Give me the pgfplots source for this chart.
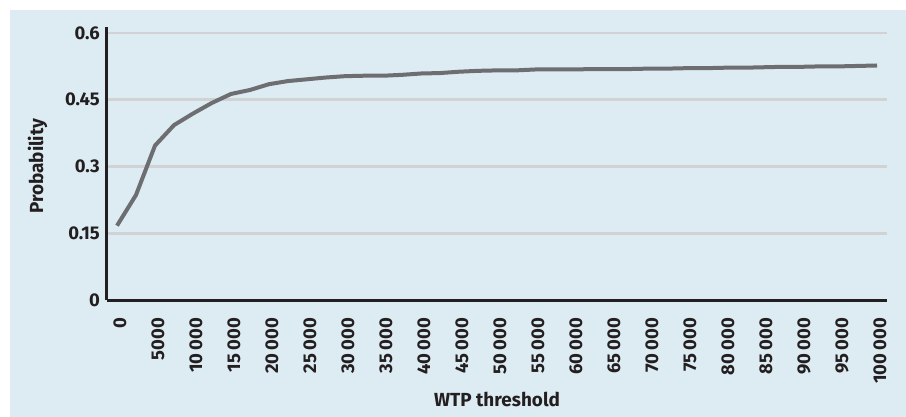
\documentclass[border=0pt]{standalone}
\usepackage{fontspec}
\setmainfont{Fira Sans}
\usepackage{pgfplots}
\pgfplotsset{compat=1.18}

\definecolor{panel}{RGB}{221,235,242}
\definecolor{gridgrey}{RGB}{208,210,211}
\definecolor{curve}{RGB}{109,110,113}
\definecolor{axisblack}{RGB}{35,31,32}

\begin{document}
\begin{tikzpicture}
\fill[white] (-107bp,-117bp) rectangle (799bp,300bp);
\fill[panel] (-97bp,-117bp) rectangle (799bp,290bp);
\begin{axis}[
    at={(0,0)}, anchor=south west,
    scale only axis,
    width=780bp, height=273bp,
    xmin=-1316, xmax=101316,
    ymin=0, ymax=0.6135,
    axis x line=bottom, axis y line=left,
    axis line style={-, line width=3bp, color=axisblack},
    major tick length=0pt,
    tick style={draw=none},
    scaled x ticks=false,
    ytick={0,0.15,0.3,0.45,0.6},
    yticklabels={0,0.15,0.3,0.45,0.6},
    xtick={0,5000,...,100000},
    xticklabels={0,5000,10\,000,15\,000,20\,000,25\,000,30\,000,35\,000,40\,000,45\,000,50\,000,55\,000,60\,000,65\,000,70\,000,75\,000,80\,000,85\,000,90\,000,95\,000,100\,000},
    ymajorgrids,
    grid style={color=gridgrey, line width=2.6bp},
    ticklabel style={font=\fontsize{18.5}{20}\selectfont\bfseries, text=axisblack, inner sep=0pt},
    yticklabel style={anchor=east, xshift=-7bp},
    xticklabel style={yshift=-18bp, xshift=3bp, rotate=90, anchor=east},
    label style={font=\fontsize{19}{22}\selectfont\bfseries, text=axisblack},
    xlabel={WTP threshold},
    xlabel style={at={(axis description cs:0.5,0)}, anchor=base, yshift=-106.7bp},
    ylabel={Probability},
    ylabel style={at={(axis description cs:-0.089,0.49)}, anchor=center},
]
\addplot[color=curve, line width=4bp, line join=round] coordinates {
    (0,0.167) (2500,0.236) (5000,0.347) (7500,0.393) (10000,0.419)
    (12500,0.443) (15000,0.463) (17500,0.472) (20000,0.485) (22500,0.492)
    (25000,0.496) (27500,0.500) (30000,0.503) (32500,0.504) (35000,0.504)
    (37500,0.506) (40000,0.509) (42500,0.510) (45000,0.513) (47500,0.515)
    (50000,0.516) (52500,0.516) (55000,0.518) (57500,0.518) (60000,0.518)
    (62500,0.519) (65000,0.519) (67500,0.519) (70000,0.520) (72500,0.520)
    (75000,0.521) (77500,0.521) (80000,0.522) (82500,0.522) (85000,0.523)
    (87500,0.524) (90000,0.524) (92500,0.525) (95000,0.525) (97500,0.526)
    (100000,0.527)
};
\end{axis}
\pgfresetboundingbox
\useasboundingbox (-107bp,-117bp) rectangle (799bp,300bp);
\end{tikzpicture}
\end{document}
